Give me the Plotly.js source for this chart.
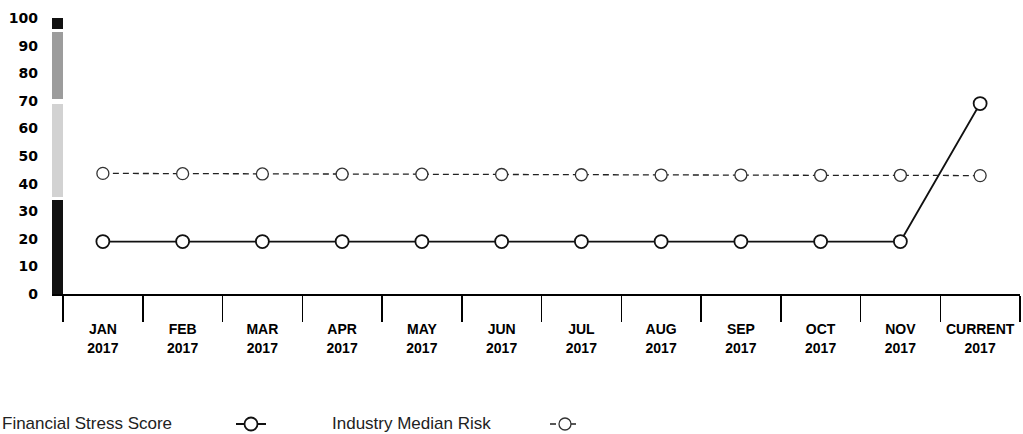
<!DOCTYPE html>
<html>
<head>
<meta charset="utf-8">
<script src="https://cdn.plot.ly/plotly-3.0.1.min.js"></script>
<style>
  html, body { margin: 0; padding: 0; background: #fff; }
  #chart { width: 1023px; height: 434px; }
</style>
</head>
<body>
<div id="chart"></div>
<script>
// ---- data ----
const months = ['JAN', 'FEB', 'MAR', 'APR', 'MAY', 'JUN', 'JUL', 'AUG', 'SEP', 'OCT', 'NOV', 'CURRENT'];
const years = ['2017', '2017', '2017', '2017', '2017', '2017', '2017', '2017', '2017', '2017', '2017', '2017'];
const stressScore = [19, 19, 19, 19, 19, 19, 19, 19, 19, 19, 19, 69];
const industryMedian = [43.7, 43.6, 43.5, 43.4, 43.4, 43.3, 43.2, 43.1, 43.1, 43.0, 43.0, 42.9];
const yTicks = [0, 10, 20, 30, 40, 50, 60, 70, 80, 90, 100];
// risk scale bands (low..high)
const bandStart = [0, 35, 70.5, 96];
const bandEnd = [34, 69, 95, 100];
const bandColor = ['#111111', '#d2d2d2', '#9c9c9c', '#111111'];
const legendNames = ['Financial Stress Score', 'Industry Median Risk'];

const categories = months.map((m, i) => m + '<br>' + years[i]);

const W = 1023, H = 434;
const mL = 52, mR = 3, mT = 18, mB = 140;
const plotW = W - mL - mR;
const plotH = H - mT - mB;
const barFrac = 11 / plotW;
const legendPix = 424;

const traces = [
  {
    type: 'bar',
    x: bandStart.map(() => 'scale'),
    y: bandEnd.map((e, i) => e - bandStart[i]),
    base: bandStart,
    width: 1,
    marker: { color: bandColor, line: { width: 0 } },
    xaxis: 'x2', yaxis: 'y',
    showlegend: false,
    hoverinfo: 'skip'
  },
  {
    type: 'scatter', mode: 'lines+markers',
    x: categories, y: stressScore,
    name: '',
    line: { color: '#111', width: 1.8 },
    marker: { symbol: 'circle', size: 13, color: '#fff', line: { color: '#111', width: 1.8 } },
    legend: 'legend',
    cliponaxis: false
  },
  {
    type: 'scatter', mode: 'lines+markers',
    x: categories, y: industryMedian,
    name: '',
    line: { color: '#222', width: 1.3, dash: '6px,4px' },
    marker: { symbol: 'circle', size: 12, color: '#fff', line: { color: '#333', width: 1.3 } },
    legend: 'legend2',
    cliponaxis: false
  }
];

const legendY = 1 - legendPix / H;
const annY = ((mT + plotH) - legendPix) / plotH;

const layout = {
  width: W, height: H,
  margin: { l: mL, r: mR, t: mT, b: mB },
  paper_bgcolor: '#fff', plot_bgcolor: '#fff',
  barmode: 'overlay',
  bargap: 0,
  xaxis: {
    type: 'category',
    domain: [barFrac, 1],
    range: [-0.5, categories.length - 0.5],
    categoryorder: 'array', categoryarray: categories,
    tickson: 'boundaries',
    ticks: 'outside', ticklen: 26, tickwidth: 1.5, tickcolor: '#000',
    ticklabelstandoff: 22,
    tickangle: 0,
    showline: true, linecolor: '#000', linewidth: 1.5,
    showgrid: false, zeroline: false,
    tickfont: { family: 'Liberation Sans, Arial, sans-serif', size: 14, color: '#000', weight: 'bold' },
    anchor: 'y'
  },
  xaxis2: {
    type: 'category',
    domain: [0, barFrac],
    range: [-0.5, 0.5],
    showticklabels: false, ticks: '',
    showline: true, linecolor: '#000', linewidth: 1.5,
    showgrid: false, zeroline: false,
    anchor: 'y'
  },
  yaxis: {
    range: [0, 100],
    tickmode: 'array', tickvals: yTicks, ticktext: yTicks.map(String),
    ticks: '', ticklabelstandoff: 13,
    showline: false, showgrid: false, zeroline: false,
    tickfont: { family: 'DejaVu Sans, sans-serif', size: 14, color: '#000', weight: 'bold' },
    anchor: 'x2'
  },
  showlegend: true,
  legend: {
    orientation: 'h', xref: 'container', yref: 'container',
    x: 231 / W, y: legendY, xanchor: 'left', yanchor: 'middle',
    itemwidth: 30, bgcolor: 'rgba(0,0,0,0)', font: { size: 12 }
  },
  legend2: {
    orientation: 'h', xref: 'container', yref: 'container',
    x: 545 / W, y: legendY, xanchor: 'left', yanchor: 'middle',
    itemwidth: 30, bgcolor: 'rgba(0,0,0,0)', font: { size: 12 }
  },
  annotations: [
    {
      text: legendNames[0], xref: 'paper', yref: 'paper',
      x: (0 - mL) / plotW, y: annY,
      xanchor: 'left', yanchor: 'middle', showarrow: false,
      font: { family: 'Liberation Sans, Arial, sans-serif', size: 17, color: '#222' }
    },
    {
      text: legendNames[1], xref: 'paper', yref: 'paper',
      x: (330 - mL) / plotW, y: annY,
      xanchor: 'left', yanchor: 'middle', showarrow: false,
      font: { family: 'Liberation Sans, Arial, sans-serif', size: 17, color: '#222' }
    }
  ]
};

Plotly.newPlot('chart', traces, layout, { displayModeBar: false, staticPlot: true });
</script>
</body>
</html>
